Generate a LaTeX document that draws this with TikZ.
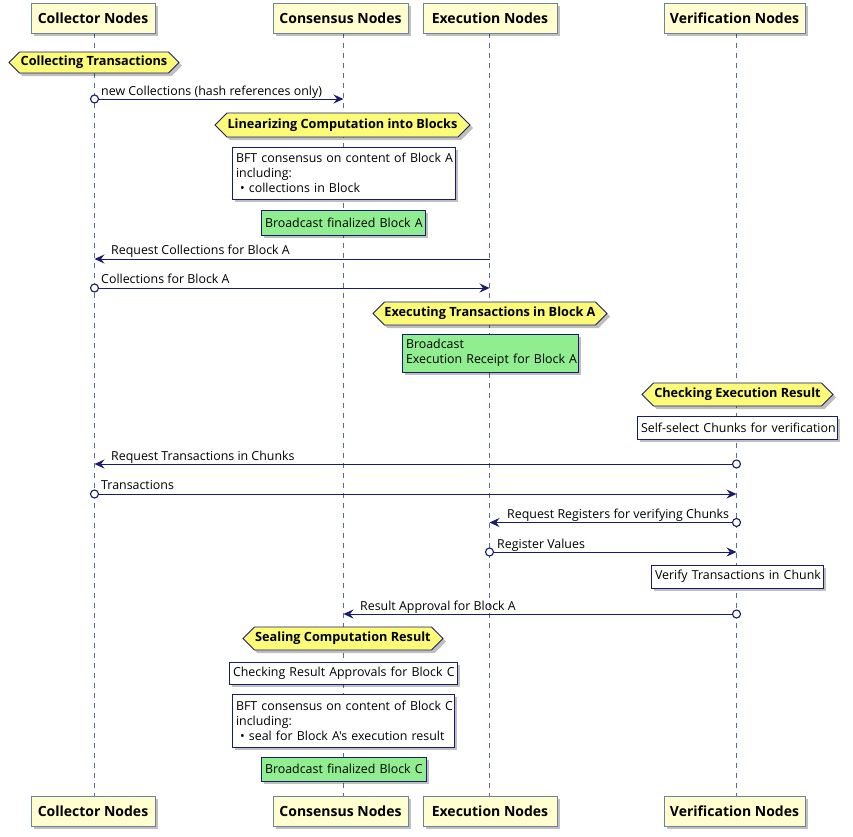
\documentclass[tikz,border=0pt]{standalone}
\usepackage{fontspec}
\setmainfont{Open Sans}[Ligatures=TeXOff]
\usetikzlibrary{shapes.symbols,shadows,arrows.meta}
\definecolor{navy}{HTML}{1A1A70}
\definecolor{lifec}{HTML}{5B6E8C}
\definecolor{hdrfill}{HTML}{FEFECE}
\definecolor{hdrline}{HTML}{6F819C}
\definecolor{divfill}{HTML}{FBFB77}
\definecolor{notegreen}{HTML}{90EE90}
\newcommand{\msgfont}{\fontsize{12.4}{15}\selectfont}
\newcommand{\noteline}[1]{\mbox{#1}}
\begin{document}
\begin{tikzpicture}[x=1pt,y=-1pt,
  shd/.style={drop shadow={shadow xshift=3pt,shadow yshift=-3pt,fill=black,opacity=0.25}},
  hdr/.style={draw=hdrline,fill=hdrfill,line width=1pt,shd,inner sep=0pt,
    font=\bfseries\fontsize{14}{16}\selectfont},
  divider/.style={signal,signal to=west and east,signal pointer angle=90,draw=navy,fill=divfill,
    line width=0.8pt,shd,inner sep=0pt,font=\bfseries\fontsize{12.7}{15}\selectfont},
  notebox/.style={draw=navy,fill=white,line width=0.8pt,shd,inner xsep=4pt,inner ysep=0pt,
    align=left,font=\msgfont},
  greennote/.style={notebox,fill=notegreen},
  lifeline/.style={draw=lifec,dash pattern=on 5pt off 5pt,line width=0.8pt},
  msg/.style={draw=navy,line width=0.9pt,-{Stealth[length=10pt,width=9pt,inset=3.5pt]}},
  startdot/.style={circle,draw=navy,fill=white,line width=1.1pt,minimum size=8pt,inner sep=0pt},
  lbl/.style={font=\msgfont,inner sep=0pt,anchor=base west}
]
\useasboundingbox (0,0) rectangle (853,836);
\fill[white] (0,0) rectangle (853,836);

% lifelines
\coordinate (colL1) at (94.5,33);  \coordinate (colL2) at (94.5,796);
\coordinate (conL1) at (343.5,33); \coordinate (conL2) at (343.5,796);
\coordinate (exeL1) at (489.5,33); \coordinate (exeL2) at (489.5,796);
\coordinate (verL1) at (736.5,33); \coordinate (verL2) at (736.5,796);
\draw[lifeline] (colL1) -- (colL2);
\draw[lifeline] (conL1) -- (conL2);
\draw[lifeline] (exeL1) -- (exeL2);
\draw[lifeline] (verL1) -- (verL2);

% headers
\node[hdr,minimum width=124pt,minimum height=30pt] (colT) at (93,18) {Collector Nodes};
\node[hdr,minimum width=135pt,minimum height=30pt] (conT) at (340.5,18) {Consensus Nodes};
\node[hdr,minimum width=134pt,minimum height=30pt] (exeT) at (490,18) {Execution Nodes};
\node[hdr,minimum width=141pt,minimum height=30pt] (verT) at (734.5,18) {Verification Nodes};
\node[hdr,minimum width=124pt,minimum height=30pt] (colB) at (93,811) {Collector Nodes};
\node[hdr,minimum width=135pt,minimum height=30pt] (conB) at (340.5,811) {Consensus Nodes};
\node[hdr,minimum width=134pt,minimum height=30pt] (exeB) at (490,811) {Execution Nodes};
\node[hdr,minimum width=141pt,minimum height=30pt] (verB) at (734.5,811) {Verification Nodes};

% dividers
\node[divider,minimum width=170pt,minimum height=21pt] (d1) at (94,62.5) {Collecting Transactions};
\node[divider,minimum width=255pt,minimum height=24pt] (d2) at (342.5,125) {Linearizing Computation into Blocks};
\node[divider,minimum width=234pt,minimum height=23pt] (d3) at (490,313.5) {Executing Transactions in Block A};
\node[divider,minimum width=191pt,minimum height=23pt] (d4) at (737.5,394.5) {Checking Execution Result};
\node[divider,minimum width=200pt,minimum height=23pt] (d5) at (343,638.5) {Sealing Computation Result};

% notes
\node[notebox,text width=215pt,minimum height=52pt] (n1) at (343.5,173)
  {\noteline{BFT consensus on content of Block A}\\\noteline{including:}\\\noteline{\ \textbullet\ collections in Block}};
\node[greennote,text width=156pt,minimum height=25pt] (n2) at (343,222.5) {\noteline{Broadcast finalized Block A}};
\node[greennote,text width=168pt,minimum height=38pt] (n3) at (490,353) {\noteline{Broadcast}\\\noteline{Execution Receipt for Block A}};
\node[notebox,text width=192pt,minimum height=23pt] (n4) at (737,427.5) {\noteline{Self-select Chunks for verification}};
\node[notebox,text width=164pt,minimum height=23pt] (n5) at (737,576.5) {\noteline{Verify Transactions in Chunk}};
\node[notebox,text width=220pt,minimum height=22pt] (n6) at (343,673) {\noteline{Checking Result Approvals for Block C}};
\node[notebox,text width=214pt,minimum height=53pt] (n7) at (343,720.5)
  {\noteline{BFT consensus on content of Block C}\\\noteline{including:}\\\noteline{\ \textbullet\ seal for Block A's execution result}};
\node[greennote,text width=157pt,minimum height=24pt] (n8) at (343.5,769) {\noteline{Broadcast finalized Block C}};

% messages
\coordinate (m1a) at (94.5,99);  \coordinate (m1b) at (343.5,99);
\coordinate (m2a) at (489.5,259); \coordinate (m2b) at (94.5,259);
\coordinate (m3a) at (94.5,288); \coordinate (m3b) at (489.5,288);
\coordinate (m4a) at (736.5,464); \coordinate (m4b) at (94.5,464);
\coordinate (m5a) at (94.5,494); \coordinate (m5b) at (736.5,494);
\coordinate (m6a) at (736.5,522.5); \coordinate (m6b) at (489.5,522.5);
\coordinate (m7a) at (489.5,552); \coordinate (m7b) at (736.5,552);
\coordinate (m8a) at (736.5,614); \coordinate (m8b) at (343.5,614);

\draw[msg] (m1a) -- (m1b); \node[startdot] (s1) at (m1a) {};
\node[lbl] (t1) at (101,95) {new Collections (hash references only)};
\draw[msg] (m2a) -- (m2b);
\node[lbl] (t2) at (111,254) {Request Collections for Block A};
\draw[msg] (m3a) -- (m3b); \node[startdot] (s3) at (m3a) {};
\node[lbl] (t3) at (101,283) {Collections for Block A};
\draw[msg] (m4a) -- (m4b); \node[startdot] (s4) at (m4a) {};
\node[lbl] (t4) at (111,460) {Request Transactions in Chunks};
\draw[msg] (m5a) -- (m5b); \node[startdot] (s5) at (m5a) {};
\node[lbl] (t5) at (101,489) {Transactions};
\draw[msg] (m6a) -- (m6b); \node[startdot] (s6) at (m6a) {};
\node[lbl] (t6) at (507,518) {Request Registers for verifying Chunks};
\draw[msg] (m7a) -- (m7b); \node[startdot] (s7) at (m7a) {};
\node[lbl] (t7) at (497,548) {Register Values};
\draw[msg] (m8a) -- (m8b); \node[startdot] (s8) at (m8a) {};
\node[lbl] (t8) at (360,610) {Result Approval for Block A};
\end{tikzpicture}
\end{document}
